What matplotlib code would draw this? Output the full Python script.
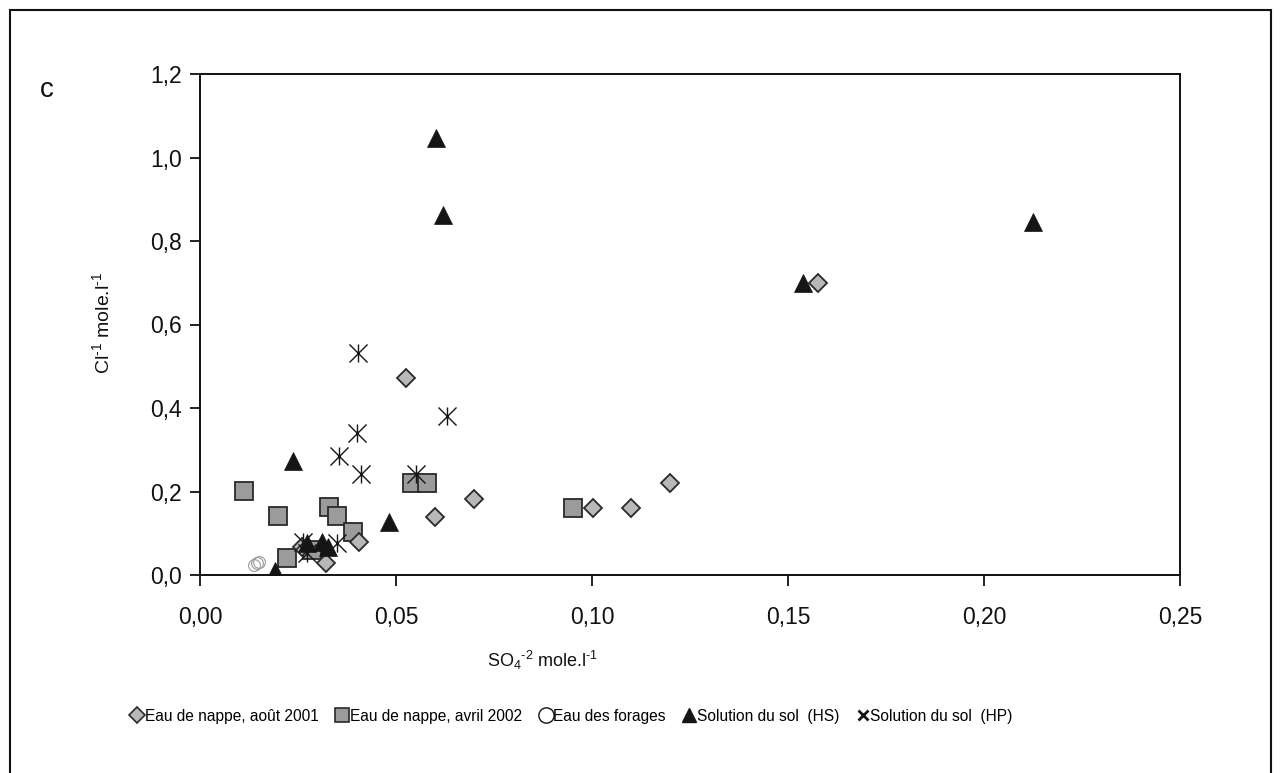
import numpy as np
import matplotlib
matplotlib.use("Agg")
import matplotlib.pyplot as plt
from matplotlib.path import Path
from matplotlib.lines import Line2D
from matplotlib.patches import Rectangle
from matplotlib.ticker import FuncFormatter

plt.rcParams['font.family'] = ['Liberation Sans', 'DejaVu Sans']
plt.rcParams['mathtext.fontset'] = 'custom'
plt.rcParams['mathtext.rm'] = 'Liberation Sans'
plt.rcParams['mathtext.it'] = 'Liberation Sans'
plt.rcParams['mathtext.default'] = 'regular'

# Eau de nappe, août 2001
aout_x = [0.1577, 0.0526, 0.0699, 0.0600, 0.1003, 0.1100, 0.1200, 0.0406, 0.0321, 0.0260]
aout_y = [0.700, 0.472, 0.182, 0.139, 0.160, 0.160, 0.220, 0.079, 0.029, 0.067]

# Eau de nappe, avril 2002
avril_x = [0.0112, 0.0200, 0.0222, 0.0329, 0.0350, 0.0390, 0.0541, 0.0580, 0.0951, 0.0286]
avril_y = [0.201, 0.141, 0.040, 0.163, 0.141, 0.103, 0.220, 0.220, 0.160, 0.060]

# Eau des forages
forage_x = [0.0138, 0.0145, 0.0150]
forage_y = [0.024, 0.029, 0.031]

# Solution du sol (HS)
hs_x = [0.0602, 0.0620, 0.1538, 0.2125, 0.0236, 0.0482, 0.0191, 0.0273, 0.0310, 0.0327]
hs_y = [1.047, 0.862, 0.700, 0.846, 0.273, 0.127, 0.010, 0.077, 0.079, 0.067]

# Solution du sol (HP)
hp_x = [0.0403, 0.0630, 0.0400, 0.0355, 0.0410, 0.0550, 0.0263, 0.0273, 0.0350]
hp_y = [0.532, 0.381, 0.340, 0.285, 0.242, 0.242, 0.079, 0.053, 0.077]

x_ticks = [0.00, 0.05, 0.10, 0.15, 0.20, 0.25]
y_ticks = [0.0, 0.2, 0.4, 0.6, 0.8, 1.0, 1.2]

# star marker like Excel: an X with a vertical bar
star = Path([(-1, -1), (1, 1), (-1, 1), (1, -1), (0, -1), (0, 1)],
            [Path.MOVETO, Path.LINETO, Path.MOVETO, Path.LINETO, Path.MOVETO, Path.LINETO])

fig = plt.figure(figsize=(12.81, 7.73), dpi=100)
W, H = 1281, 773
ax = fig.add_axes([200 / W, 1 - 575 / H, 980 / W, 501 / H])

ax.plot(forage_x, forage_y, 'o', ms=8.5, mfc='none', mec='#9a9a9a', mew=0.8, ls='none')
ax.plot(avril_x, avril_y, 's', ms=13, mfc='#9b9b9b', mec='#2a2a2a', mew=1.3, ls='none')
ax.plot(aout_x, aout_y, 'D', ms=9.5, mfc='#b8b8b8', mec='#2a2a2a', mew=1.3, ls='none')
ax.plot(hs_x, hs_y, '^', ms=13, mfc='#151515', mec='#151515', mew=0.5, ls='none')
ax.plot(hp_x, hp_y, marker=star, ms=13, mfc='none', mec='#151515', mew=1.0, ls='none')

ax.set_xlim(0, 0.25)
ax.set_ylim(0, 1.2)
ax.set_xticks(x_ticks)
ax.set_yticks(y_ticks)
ax.xaxis.set_major_formatter(FuncFormatter(lambda v, p: f"{v:.2f}".replace('.', ',')))
ax.yaxis.set_major_formatter(FuncFormatter(lambda v, p: f"{v:.1f}".replace('.', ',')))
ax.tick_params(axis='x', direction='out', length=8, width=1.3, pad=14, labelsize=16.5, colors='#111111')
ax.tick_params(axis='y', direction='out', length=7, width=1.3, pad=6, labelsize=16.5, colors='#111111')
for s in ax.spines.values():
    s.set_linewidth(1.4)
    s.set_color('#111111')

fig.text(543 / W, 1 - 660 / H, 'SO$_4$$^{\u2010 2}$ mole.l$^{\u20101}$', ha='center', va='center',
         fontsize=13, color='#111111')
fig.text(102 / W, 1 - 323 / H, 'Cl$^{\u20101}$ mole.l$^{\u20101}$', ha='center', va='center',
         rotation=90, fontsize=14, color='#111111')
fig.text(47 / W, 1 - 90 / H, 'c', ha='center', va='center', fontsize=20, color='#111111')

handles = [
    Line2D([], [], ls='none', marker='D', ms=8, mfc='#b8b8b8', mec='#2a2a2a', mew=1.2),
    Line2D([], [], ls='none', marker='s', ms=10, mfc='#9b9b9b', mec='#2a2a2a', mew=1.2),
    Line2D([], [], ls='none', marker='o', ms=11, mfc='none', mec='#111111', mew=1.0),
    Line2D([], [], ls='none', marker='^', ms=10, mfc='#151515', mec='#151515'),
    Line2D([], [], ls='none', marker='x', ms=7, mec='#151515', mew=2.0),
]
labels = ['Eau de nappe, août 2001', 'Eau de nappe, avril 2002', 'Eau des forages',
          'Solution du sol  (HS)', 'Solution du sol  (HP)']
fig.legend(handles, labels, loc='center', bbox_to_anchor=(572 / W, 1 - 716 / H), ncol=5,
           frameon=False, handlelength=0.8, handletextpad=0.1, columnspacing=1.1,
           prop={'size': 11.2})

fig.add_artist(Rectangle((10 / W, -0.05), 1261 / W, 1.05 - 10 / H, transform=fig.transFigure,
                         fill=False, lw=1.5, ec='#111111'))

fig.savefig('out.png', dpi=100)
